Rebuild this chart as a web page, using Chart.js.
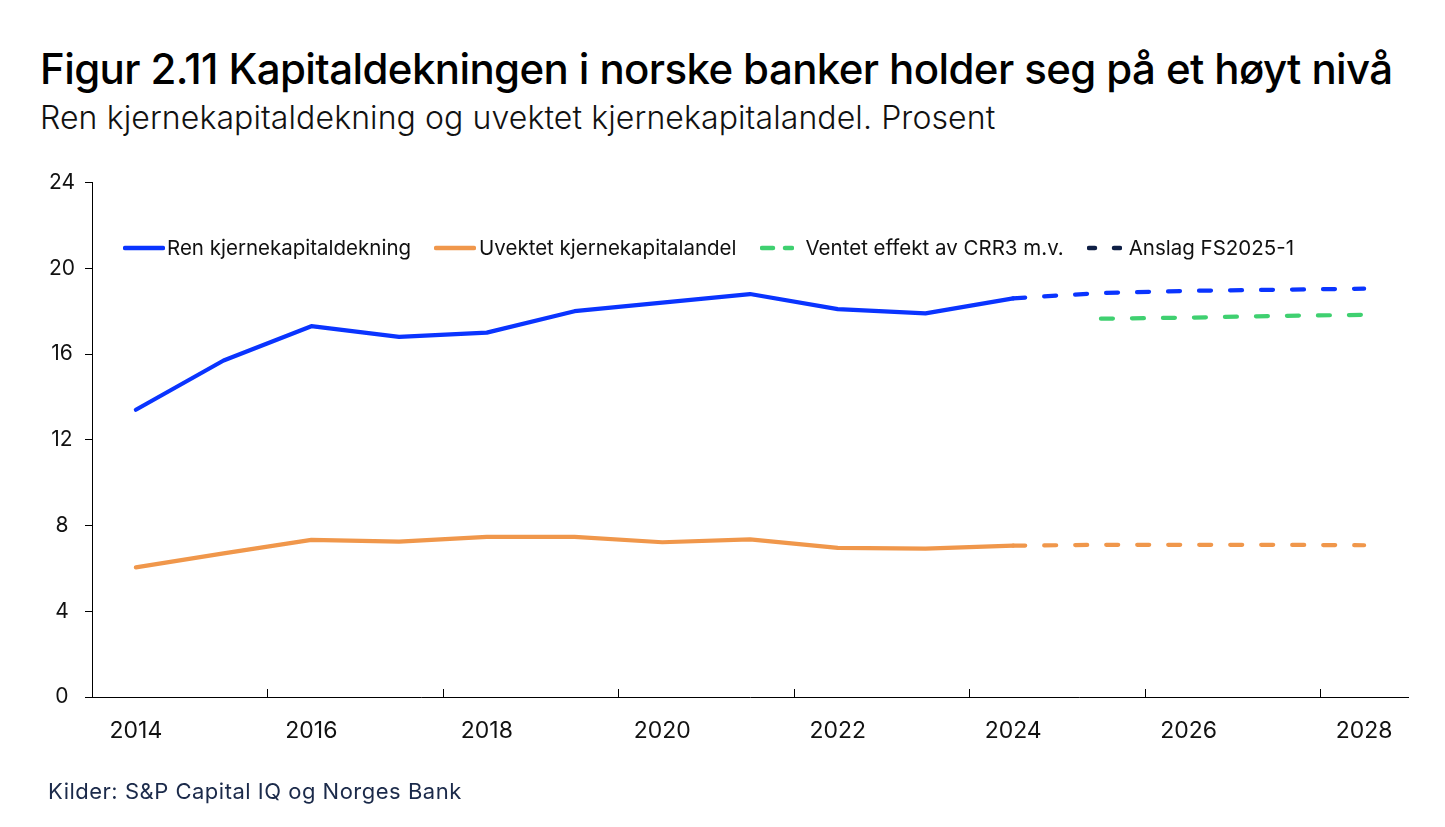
<!DOCTYPE html>
<html>
<head>
<meta charset="utf-8">
<script src="https://cdn.jsdelivr.net/npm/chart.js@4"></script>
<style>
  body { margin: 0; background: #fff; width: 1445px; height: 827px; overflow: hidden; font-family: Inter, sans-serif; }
  #title { position: absolute; left: 40px; top: 43px; font-size: 42px; font-weight: 500; color: #000; letter-spacing: -0.6px; white-space: nowrap; }
  #subtitle { position: absolute; left: 40px; top: 98px; font-size: 32px; font-weight: 300; color: #111; letter-spacing: 0.1px; white-space: nowrap; }
  #wrap { position: absolute; left: 0; top: 160px; width: 1445px; height: 620px; }
  #legend { position: absolute; left: 123px; top: 235px; display: flex; align-items: center; font-size: 20.5px; color: #111; white-space: nowrap; }
  #legend .item { display: flex; align-items: center; margin-right: 23px; }
  #source { position: absolute; left: 48px; top: 778px; font-size: 22px; letter-spacing: 0.5px; color: #1b2a4a; white-space: nowrap; }
</style>
</head>
<body>
<div id="title">Figur 2.11 Kapitaldekningen i norske banker holder seg på et høyt nivå</div>
<div id="subtitle">Ren kjernekapitaldekning og uvektet kjernekapitalandel. Prosent</div>
<div id="wrap"><canvas id="myChart"></canvas></div>
<div id="legend"></div>
<div id="source">Kilder: S&amp;P Capital IQ og Norges Bank</div>
<script>
const years = ['2014', '2015', '2016', '2017', '2018', '2019', '2020', '2021', '2022', '2023', '2024', '2025', '2026', '2027', '2028'];
const yTicks = [0, 4, 8, 12, 16, 20, 24];

// historiske tall
const renKjerne = [13.4, 15.7, 17.3, 16.8, 17.0, 18.0, 18.4, 18.8, 18.1, 17.9, 18.6, null, null, null, null];
const uvektet = [6.05, 6.7, 7.33, 7.25, 7.47, 7.47, 7.22, 7.35, 6.96, 6.92, 7.06, null, null, null, null];
// anslag
const renKjerneAnslag = [null, null, null, null, null, null, null, null, null, null, 18.6, 18.85, 18.95, 19.0, 19.05];
const uvektetAnslag = [null, null, null, null, null, null, null, null, null, null, 7.06, 7.1, 7.1, 7.1, 7.08];
const crr3 = [null, null, null, null, null, null, null, null, null, null, null, 17.65, 17.7, 17.78, 17.83];

const blue = '#0a34ff';
const orange = '#f0974b';
const green = '#3fd070';
const navy = '#0f1f45';
const dash = [12, 19];

// legendelementer: bredde på strek, strekmønster og avstand til tekst
const legendItems = [
  { label: 'Ren kjernekapitaldekning', color: blue, dash: null, w: 42, gap: 2 },
  { label: 'Uvektet kjernekapitalandel', color: orange, dash: null, w: 42, gap: 3 },
  { label: 'Ventet effekt av CRR3 m.v.', color: green, dash: '11 12', w: 34, gap: 12 },
  { label: 'Anslag FS2025-1', color: navy, dash: '6 19', w: 35, gap: 7 }
];

const legend = document.getElementById('legend');
legendItems.forEach(it => {
  const el = document.createElement('div');
  el.className = 'item';
  el.innerHTML = '<svg width="' + it.w + '" height="10" style="margin-right:' + it.gap + 'px"><line x1="2" y1="5" x2="' + (it.w - 2) +
    '" y2="5" stroke="' + it.color + '" stroke-width="4.5" stroke-linecap="round"' +
    (it.dash ? ' stroke-dasharray="' + it.dash + '"' : '') + '/></svg>';
  const t = document.createElement('span');
  t.textContent = it.label;
  el.appendChild(t);
  legend.appendChild(el);
});

// små tick-streker innover på x-aksen
const xTickMarks = {
  id: 'xTickMarks',
  afterDraw(chart) {
    const x = chart.scales.x;
    const ctx = chart.ctx;
    const half = (x.getPixelForValue(1) - x.getPixelForValue(0)) / 2;
    ctx.save();
    ctx.strokeStyle = '#000';
    ctx.lineWidth = 1;
    for (let i = 2; i < years.length; i += 2) {
      const px = Math.round(x.getPixelForValue(i) - half) + 0.5;
      ctx.beginPath();
      ctx.moveTo(px, x.top - 8);
      ctx.lineTo(px, x.top);
      ctx.stroke();
    }
    ctx.restore();
  }
};

const ds = (data, color, dashed) => ({
  data: data,
  borderColor: color,
  backgroundColor: color,
  borderWidth: 4.2,
  borderDash: dashed ? dash : [],
  borderCapStyle: 'round',
  borderJoinStyle: 'round',
  pointRadius: 0,
  tension: 0,
  spanGaps: false
});

const ctx = document.getElementById('myChart').getContext('2d');
new Chart(ctx, {
  type: 'line',
  data: {
    labels: years,
    datasets: [
      ds(renKjerneAnslag, blue, true),
      ds(uvektetAnslag, orange, true),
      ds(crr3, green, true),
      ds(renKjerne, blue, false),
      ds(uvektet, orange, false)
    ]
  },
  options: {
    responsive: true,
    maintainAspectRatio: false,
    animation: false,
    layout: { padding: { top: 14, right: 37, left: 0, bottom: 0 } },
    plugins: { legend: { display: false }, tooltip: { enabled: false } },
    scales: {
      x: {
        offset: true,
        grid: { display: false },
        border: { color: '#000', width: 1 },
        ticks: {
          autoSkip: false,
          maxRotation: 0,
          padding: 12,
          color: '#111',
          font: { family: 'Inter', size: 23 },
          callback: (v, i) => (i % 2 === 0 ? years[i] : '')
        },
        afterFit(scale) { scale.height = 83; }
      },
      y: {
        min: 0,
        max: 24,
        afterBuildTicks(scale) { scale.ticks = yTicks.map(v => ({ value: v })); },
        grid: { drawOnChartArea: false, drawTicks: true, tickLength: 7, color: '#000' },
        border: { color: '#000', width: 1 },
        ticks: {
          crossAlign: 'center',
          padding: 10,
          color: '#111',
          font: { family: 'Inter', size: 21 }
        },
        afterFit(scale) { scale.width = 92; }
      }
    }
  },
  plugins: [xTickMarks]
});
</script>
</body>
</html>
